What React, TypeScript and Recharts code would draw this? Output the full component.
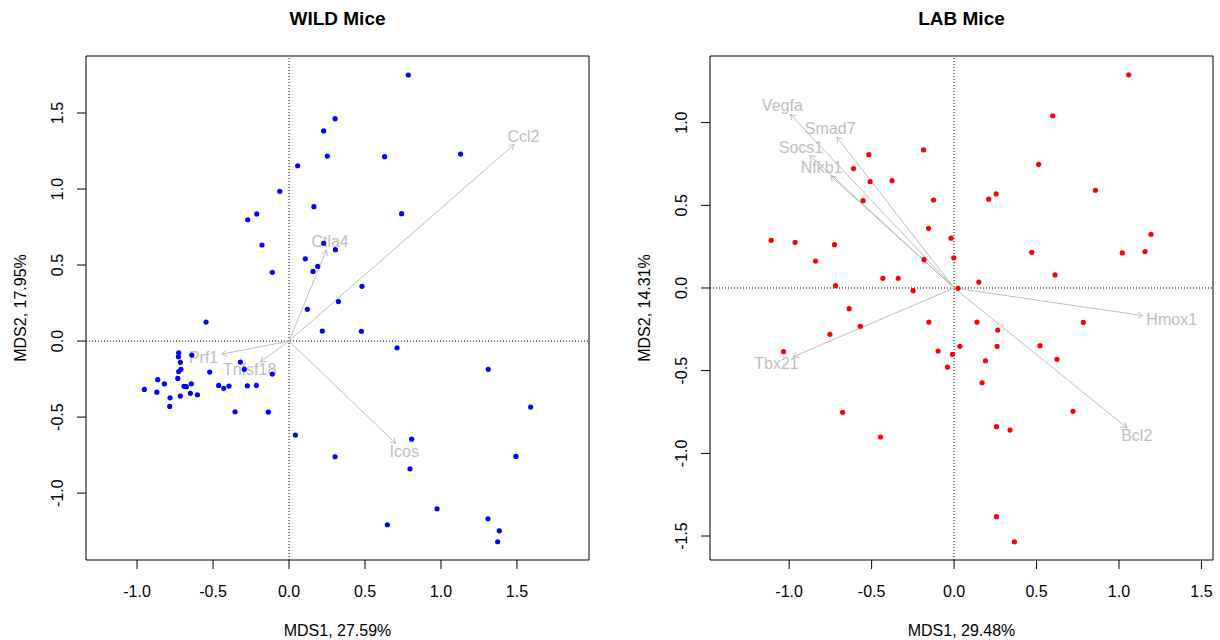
import React from 'react';
import { ScatterChart, Scatter, XAxis, YAxis, ReferenceLine, ReferenceArea } from 'recharts';

const FONT = '"Liberation Sans", Arial, Helvetica, sans-serif';

// WILD mice: sample scores (MDS1, MDS2)
const wildPoints: [number, number][] = [
  [0.303, 1.463], [0.228, 1.382], [0.252, 1.217], [0.057, 1.153], [-0.061, 0.985],
  [0.164, 0.884], [-0.213, 0.836], [-0.272, 0.798], [-0.178, 0.632], [0.228, 0.643],
  [0.305, 0.601], [0.107, 0.541], [0.189, 0.491], [0.158, 0.458], [-0.11, 0.452],
  [0.121, 0.209], [0.325, 0.26], [0.785, 1.75], [0.629, 1.213], [1.129, 1.23],
  [0.741, 0.838], [0.48, 0.36], [-0.546, 0.125], [0.219, 0.066], [-0.726, -0.077],
  [-0.728, -0.103], [-0.64, -0.092], [-0.715, -0.14], [-0.711, -0.186], [-0.726, -0.2],
  [-0.732, -0.246], [-0.522, -0.204], [-0.32, -0.138], [-0.294, -0.186], [-0.11, -0.217],
  [-0.864, -0.254], [-0.82, -0.281], [-0.952, -0.318], [-0.87, -0.336], [-0.783, -0.373],
  [-0.785, -0.43], [-0.715, -0.362], [-0.691, -0.298], [-0.676, -0.3], [-0.643, -0.281],
  [-0.649, -0.344], [-0.603, -0.353], [-0.463, -0.292], [-0.43, -0.311], [-0.395, -0.296],
  [-0.274, -0.294], [-0.215, -0.292], [-0.355, -0.465], [-0.136, -0.467], [0.042, -0.618],
  [0.303, -0.761], [0.476, 0.064], [0.711, -0.044], [1.311, -0.186], [1.59, -0.434],
  [0.807, -0.645], [1.493, -0.759], [0.796, -0.84], [0.974, -1.103], [0.647, -1.208],
  [1.309, -1.169], [1.384, -1.248], [1.373, -1.32],
];
const wildGenes = ['Ccl2', 'Ctla4', 'Prf1', 'Tnfsf18', 'Icos'];
const wildArrowX = [1.482, 0.246, -0.443, -0.189, 0.702];
const wildArrowY = [1.294, 0.599, -0.086, -0.138, -0.673];
const wildXTicks = [-1, -0.5, 0, 0.5, 1, 1.5];
const wildYTicks = [-1, -0.5, 0, 0.5, 1, 1.5];
const wildXDomain: [number, number] = [-1.336, 1.974];
const wildYDomain: [number, number] = [-1.44, 1.875];

// LAB mice
const labPoints: [number, number][] = [
  [-0.185, 0.835], [-0.517, 0.806], [-0.61, 0.722], [-0.509, 0.643], [-0.376, 0.649],
  [-0.125, 0.532], [-0.552, 0.528], [-0.155, 0.361], [-0.018, 0.301], [-1.109, 0.288],
  [-0.964, 0.276], [-0.725, 0.262], [-0.84, 0.163], [-0.002, 0.183], [-0.182, 0.171],
  [-0.432, 0.059], [-0.339, 0.059], [-0.719, 0.014], [-0.248, -0.016], [0.024, -0.002],
  [-0.636, -0.125], [1.059, 1.289], [0.598, 1.041], [0.513, 0.748], [0.857, 0.591],
  [0.255, 0.569], [0.21, 0.537], [1.194, 0.325], [0.471, 0.216], [1.02, 0.212],
  [1.158, 0.22], [0.612, 0.079], [0.15, 0.036], [-0.753, -0.28], [-0.569, -0.232],
  [-1.034, -0.385], [-0.153, -0.206], [-0.097, -0.381], [-0.01, -0.401], [-0.04, -0.478],
  [0.035, -0.353], [-0.676, -0.752], [-0.446, -0.901], [0.139, -0.206], [0.265, -0.254],
  [0.261, -0.353], [0.19, -0.44], [0.17, -0.573], [0.521, -0.349], [0.624, -0.431],
  [0.784, -0.208], [0.721, -0.746], [0.257, -0.839], [0.339, -0.859], [0.257, -1.383],
  [0.366, -1.535],
];
const labGenes = ['Vegfa', 'Smad7', 'Socs1', 'Nfkb1', 'Tbx21', 'Hmox1', 'Bcl2'];
const labArrowX = [-0.994, -0.711, -0.875, -0.749, -0.976, 1.145, 1.048];
const labArrowY = [1.051, 0.913, 0.803, 0.678, -0.416, -0.167, -0.845];
const labXTicks = [-1, -0.5, 0, 0.5, 1, 1.5];
const labYTicks = [-1.5, -1, -0.5, 0, 0.5, 1];
const labXDomain: [number, number] = [-1.48, 1.57];
const labYDomain: [number, number] = [-1.645, 1.403];

let ctx: CanvasRenderingContext2D | null = null;
function textWidth(s: string) {
  if (!ctx) ctx = document.createElement('canvas').getContext('2d');
  if (!ctx) return s.length * 8.5;
  ctx.font = `16px ${FONT}`;
  return ctx.measureText(s).width;
}

// arrow from origin with an open head, label pushed just past the tip
function arrowShape(label: string) {
  return (p: any) => {
    const { x1, y1, x2, y2 } = p;
    const a = Math.atan2(y2 - y1, x2 - x1);
    const ux = Math.cos(a);
    const uy = Math.sin(a);
    const head = 6;
    const spread = Math.PI / 6;
    const w = textWidth(label);
    const h = 11.5;
    const sx = Math.abs(ux) > 1e-6 ? w / 2 / Math.abs(ux) : Infinity;
    const sy = Math.abs(uy) > 1e-6 ? h / 2 / Math.abs(uy) : Infinity;
    const s = Math.min(sx, sy) + 3.5;
    return (
      <g>
        <line x1={x1} y1={y1} x2={x2} y2={y2} stroke="#BEBEBE" strokeWidth={1} />
        <polyline
          points={`${x2 - head * Math.cos(a - spread)},${y2 - head * Math.sin(a - spread)} ${x2},${y2} ${x2 - head * Math.cos(a + spread)},${y2 - head * Math.sin(a + spread)}`}
          fill="none"
          stroke="#BEBEBE"
          strokeWidth={1}
        />
        <text
          x={x2 + ux * s}
          y={y2 + uy * s}
          textAnchor="middle"
          dominantBaseline="central"
          fill="#BEBEBE"
          fontSize={16}
          fontFamily={FONT}
        >
          {label}
        </text>
      </g>
    );
  };
}

function XTick(props: any) {
  const { x, y, payload } = props;
  return (
    <text x={x} y={y + 20} textAnchor="middle" dominantBaseline="central" fontSize={16} fontFamily={FONT} fill="#000">
      {Number(payload.value).toFixed(1)}
    </text>
  );
}

function YTick(props: any) {
  const { x, y, payload } = props;
  const cx = x - 17;
  return (
    <text
      x={cx}
      y={y}
      transform={`rotate(-90, ${cx}, ${y})`}
      textAnchor="middle"
      dominantBaseline="central"
      fontSize={16}
      fontFamily={FONT}
      fill="#000"
    >
      {Number(payload.value).toFixed(1)}
    </text>
  );
}

interface PanelProps {
  points: [number, number][];
  genes: string[];
  ax: number[];
  ay: number[];
  xDomain: [number, number];
  yDomain: [number, number];
  xTicks: number[];
  yTicks: number[];
  color: string;
  marginLeft: number;
  marginRight: number;
}

function Panel({ points, genes, ax, ay, xDomain, yDomain, xTicks, yTicks, color, marginLeft, marginRight }: PanelProps) {
  const data = points.map(([x, y]) => ({ x, y }));
  return (
    <ScatterChart width={610} height={640} margin={{ top: 56, right: marginRight, bottom: 20, left: marginLeft }}>
      <XAxis
        type="number"
        dataKey="x"
        domain={xDomain}
        ticks={xTicks}
        interval={0}
        allowDataOverflow
        height={60}
        tickSize={9}
        tickMargin={2}
        axisLine={false}
        tickLine={{ stroke: '#000' }}
        tick={<XTick />}
      />
      <YAxis
        type="number"
        dataKey="y"
        domain={yDomain}
        ticks={yTicks}
        interval={0}
        allowDataOverflow
        width={80}
        tickSize={9}
        tickMargin={2}
        axisLine={false}
        tickLine={{ stroke: '#000' }}
        tick={<YTick />}
      />
      <ReferenceArea
        x1={xDomain[0]}
        x2={xDomain[1]}
        y1={yDomain[0]}
        y2={yDomain[1]}
        fill="none"
        fillOpacity={0}
        stroke="#000"
        strokeWidth={1}
        ifOverflow="visible"
      />
      <ReferenceLine x={0} stroke="#000" strokeDasharray="1 2" />
      <ReferenceLine y={0} stroke="#000" strokeDasharray="1 2" />
      {genes.map((g, i) => (
        <ReferenceLine
          key={g}
          segment={[{ x: 0, y: 0 }, { x: ax[i], y: ay[i] }]}
          stroke="#BEBEBE"
          ifOverflow="visible"
          shape={arrowShape(g)}
        />
      ))}
      <Scatter
        data={data}
        isAnimationActive={false}
        shape={(p: any) => <circle cx={p.cx} cy={p.cy} r={2.6} fill={color} />}
      />
    </ScatterChart>
  );
}

export default function App() {
  const textStyle = { fontFamily: FONT, fill: '#000' };
  return (
    <div style={{ position: 'absolute', left: 0, top: 0, width: 1220, height: 640, background: '#fff' }}>
      <div style={{ position: 'absolute', left: 0, top: 0 }}>
        <Panel
          points={wildPoints}
          genes={wildGenes}
          ax={wildArrowX}
          ay={wildArrowY}
          xDomain={wildXDomain}
          yDomain={wildYDomain}
          xTicks={wildXTicks}
          yTicks={wildYTicks}
          color="#0000FF"
          marginLeft={6}
          marginRight={21}
        />
      </div>
      <div style={{ position: 'absolute', left: 610, top: 0 }}>
        <Panel
          points={labPoints}
          genes={labGenes}
          ax={labArrowX}
          ay={labArrowY}
          xDomain={labXDomain}
          yDomain={labYDomain}
          xTicks={labXTicks}
          yTicks={labYTicks}
          color="#FF0000"
          marginLeft={20}
          marginRight={7}
        />
      </div>
      <svg width={1220} height={640} style={{ position: 'absolute', left: 0, top: 0, pointerEvents: 'none' }}>
        <text x={337.5} y={18} textAnchor="middle" dominantBaseline="central" fontSize={19} fontWeight="bold" {...textStyle}>
          WILD Mice
        </text>
        <text x={961.5} y={18} textAnchor="middle" dominantBaseline="central" fontSize={19} fontWeight="bold" {...textStyle}>
          LAB Mice
        </text>
        <text x={337.5} y={630} textAnchor="middle" dominantBaseline="central" fontSize={16} {...textStyle}>
          MDS1, 27.59%
        </text>
        <text x={961.5} y={630} textAnchor="middle" dominantBaseline="central" fontSize={16} {...textStyle}>
          MDS1, 29.48%
        </text>
        <text x={20} y={308} transform="rotate(-90, 20, 308)" textAnchor="middle" dominantBaseline="central" fontSize={16} {...textStyle}>
          MDS2, 17.95%
        </text>
        <text x={644} y={308} transform="rotate(-90, 644, 308)" textAnchor="middle" dominantBaseline="central" fontSize={16} {...textStyle}>
          MDS2, 14.31%
        </text>
      </svg>
    </div>
  );
}
